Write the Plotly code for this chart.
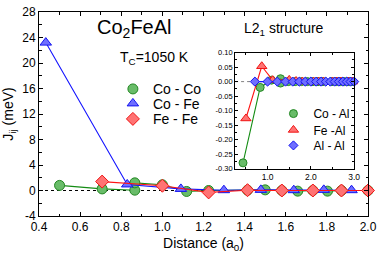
import plotly.graph_objects as go

# ---- main panel data ----
coco_x = [0.5, 0.707, 0.866, 0.866, 1.0, 1.118, 1.225, 1.414, 1.5, 1.581, 1.658, 1.732, 1.803, 1.871, 2.0]
coco_y = [0.8, 0.25, 0.05, 1.2, 0.9, -0.15, 0.0, 0.05, 0.1, 0.0, -0.1, 0.0, -0.1, 0.0, 0.0]

cofe_x = [0.433, 0.829, 1.090, 1.299, 1.479, 1.639, 1.785, 1.920]
cofe_y = [23.2, 0.95, 0.25, 0.05, 0.1, 0.05, 0.1, 0.05]

fefe_x = [0.707, 1.0, 1.225, 1.414, 1.581, 1.732, 1.871, 2.0]
fefe_y = [1.4, 0.75, -0.3, 0.05, 0.0, 0.0, 0.0, 0.0]

# ---- inset data ----
coal_x = [0.433, 0.829, 1.090, 1.299, 1.299, 1.479, 1.639, 1.785, 1.920, 2.046, 2.165, 2.278,
          2.487, 2.586, 2.681, 2.773, 2.861, 2.947]
coal_y = [-0.28, -0.02, 0.005, 0.01, -0.005, 0.0, 0.0, 0.0, 0.0, 0.0, 0.0, 0.0,
          0.0, 0.0, 0.0, 0.0, 0.0, 0.0]

feal_x = [0.5, 0.866, 1.118, 1.5, 1.658, 1.803, 2.062, 2.179, 2.291, 2.5, 2.598, 2.693, 2.872, 2.958]
feal_y = [-0.127, 0.053, 0.005, 0.006, 0.002, 0.0, 0.0, 0.0, 0.0, 0.0, 0.0, 0.0, 0.0, 0.0]

alal_x = [0.707, 1.0, 1.225, 1.414, 1.581, 1.732, 1.871, 2.0, 2.121, 2.236, 2.345, 2.449,
          2.550, 2.646, 2.739, 2.828, 2.915, 3.0]
alal_y = [0.0] * 18

main_xticks = [0.4, 0.6, 0.8, 1.0, 1.2, 1.4, 1.6, 1.8, 2.0]
main_yticks = [-4, 0, 4, 8, 12, 16, 20, 24, 28]
inset_xticks = [1.0, 2.0, 3.0]
inset_yticks = [0.10, 0.05, 0.0, -0.05, -0.10, -0.15, -0.20, -0.25, -0.30]

GREEN_F, GREEN_L, GREEN_LN = "rgb(105,188,105)", "rgb(35,135,35)", "rgb(20,140,20)"
BLUE_F, BLUE_L, BLUE_LN = "rgb(110,110,255)", "rgb(20,20,240)", "rgb(20,20,255)"
RED_F, RED_L, RED_LN = "rgb(255,115,115)", "rgb(240,20,20)", "rgb(255,20,20)"

FONT = "Liberation Sans, Arial, sans-serif"

fig = go.Figure()

def add(x, y, name, fill, line, lcol, sym, size, xa, ya, legend):
    fig.add_trace(go.Scatter(
        x=x, y=y, mode="lines", xaxis=xa, yaxis=ya, showlegend=False,
        line=dict(color=lcol, width=1.1), cliponaxis=False, hoverinfo="skip"))
    fig.add_trace(go.Scatter(
        x=x, y=y, name=name, mode="markers", xaxis=xa, yaxis=ya,
        marker=dict(symbol=sym, size=size, color=fill, line=dict(color=line, width=1)),
        cliponaxis=False, legend=legend))

add(coco_x, coco_y, "Co - Co", GREEN_F, GREEN_L, GREEN_LN, "circle", 10, "x", "y", "legend")
add(cofe_x, cofe_y, "Co - Fe", BLUE_F, BLUE_L, BLUE_LN, "triangle-up", 10, "x", "y", "legend2")
add(fefe_x, fefe_y, "Fe - Fe", RED_F, RED_L, RED_LN, "diamond", 10, "x", "y", "legend3")

add(coal_x, coal_y, "Co - Al", GREEN_F, GREEN_L, GREEN_LN, "circle", 8, "x2", "y2", "legend4")
add(feal_x, feal_y, "Fe -Al", RED_F, RED_L, RED_LN, "triangle-up", 9, "x2", "y2", "legend5")
add(alal_x, alal_y, "Al - Al", BLUE_F, BLUE_L, BLUE_LN, "diamond", 7, "x2", "y2", "legend6")

axis_common = dict(showline=True, linecolor="black", linewidth=1, mirror="allticks",
                   ticks="inside", tickcolor="black", showgrid=False, zeroline=False)

def leg(x, y, size):
    return dict(x=x, y=y, xanchor="left", yanchor="middle", bgcolor="rgba(0,0,0,0)",
                font=dict(size=size), itemwidth=30, borderwidth=0)

fig.update_layout(
    width=382, height=254,
    margin=dict(l=39, r=9, t=5, b=38),
    paper_bgcolor="white", plot_bgcolor="white",
    font=dict(family=FONT, color="black", size=12),
    xaxis=dict(range=[0.4, 2.0], tickvals=main_xticks, ticktext=[f"{v:.1f}" for v in main_xticks],
               ticklen=4, tickfont=dict(size=12),
               minor=dict(dtick=0.1, tick0=0.4, ticks="inside", ticklen=2.5, tickcolor="black"),
               title=dict(text="Distance (a<sub>0</sub>)", font=dict(size=14), standoff=4),
               domain=[0, 1], **axis_common),
    yaxis=dict(range=[-4, 28], tickvals=main_yticks, ticktext=[str(v) for v in main_yticks],
               ticklen=4, tickfont=dict(size=12),
               minor=dict(dtick=2, tick0=0, ticks="inside", ticklen=2.5, tickcolor="black"),
               title=dict(text="J<sub>ij</sub> (meV)", font=dict(size=14), standoff=6),
               domain=[0, 1], **axis_common),
    xaxis2=dict(range=[0.25, 3.0], tickvals=inset_xticks, ticktext=[f"{v:.1f}" for v in inset_xticks],
                ticklen=3, tickfont=dict(size=8.5), anchor="y2",
                minor=dict(dtick=0.5, tick0=0, ticks="inside", ticklen=2, tickcolor="black"),
                domain=[0.596, 0.958], **axis_common),
    yaxis2=dict(range=[-0.30, 0.10], tickvals=inset_yticks, ticktext=[f"{v:.2f}" for v in inset_yticks],
                ticklen=3, tickfont=dict(size=7.5), anchor="x2",
                minor=dict(dtick=0.025, tick0=0, ticks="inside", ticklen=2, tickcolor="black"),
                domain=[0.232, 0.801], **axis_common),
    legend=leg(0.2246, 0.621, 14),
    legend2=leg(0.2246, 0.550, 14),
    legend3=leg(0.2246, 0.474, 14),
    legend4=leg(0.7126, 0.502, 12),
    legend5=leg(0.7126, 0.422, 12),
    legend6=leg(0.7126, 0.346, 12),
    showlegend=True,
)

# zero reference lines
fig.add_shape(type="line", xref="x", yref="y", x0=0.4, x1=2.0, y0=0, y1=0,
              line=dict(color="black", width=1, dash="dot"), layer="below")
fig.add_shape(type="line", xref="x2", yref="y2", x0=0.25, x1=3.0, y0=0, y1=0,
              line=dict(color="gray", width=1, dash="dot"), layer="below")

fig.add_annotation(text="Co<sub>2</sub>FeAl", xref="paper", yref="paper", x=0.29, y=0.919,
                   showarrow=False, font=dict(size=20), xanchor="center", yanchor="middle")
fig.add_annotation(text="T<sub>C</sub>=1050 K", xref="paper", yref="paper", x=0.35, y=0.773,
                   showarrow=False, font=dict(size=14), xanchor="center", yanchor="middle")
fig.add_annotation(text="L2<sub>1</sub> structure", xref="paper", yref="paper", x=0.746, y=0.915,
                   showarrow=False, font=dict(size=14), xanchor="center", yanchor="middle")

fig.write_html("out.html", config={"displayModeBar": False},
               post_script="document.body.style.margin='0';")
